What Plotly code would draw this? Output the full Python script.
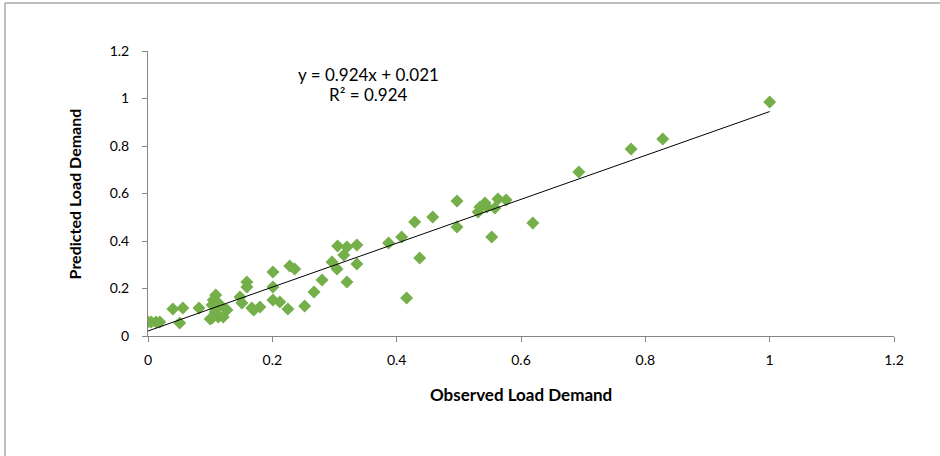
import plotly.graph_objects as go

observed = [0.0, 0.005, 0.013, 0.019, 0.040, 0.056, 0.051, 0.082, 0.100,
            0.109, 0.105, 0.111, 0.103, 0.116, 0.127, 0.108, 0.113, 0.103, 0.121,
            0.148, 0.151, 0.159, 0.159, 0.167, 0.180, 0.170,
            0.201, 0.201, 0.201, 0.212, 0.228, 0.236, 0.225, 0.252, 0.267, 0.280,
            0.296, 0.304, 0.305, 0.320, 0.336, 0.315, 0.336, 0.320,
            0.387, 0.408, 0.429, 0.458, 0.437, 0.416,
            0.497, 0.497, 0.531, 0.534, 0.542, 0.545, 0.558, 0.563, 0.576, 0.553,
            0.619, 0.693, 0.777, 0.828, 1.0]
predicted = [0.059, 0.059, 0.059, 0.059, 0.114, 0.118, 0.055, 0.118, 0.072,
             0.173, 0.152, 0.143, 0.131, 0.131, 0.109, 0.101, 0.080, 0.076, 0.080,
             0.164, 0.139, 0.227, 0.206, 0.118, 0.122, 0.109,
             0.269, 0.206, 0.152, 0.143, 0.295, 0.282, 0.114, 0.126, 0.185, 0.236,
             0.312, 0.282, 0.379, 0.375, 0.383, 0.341, 0.303, 0.227,
             0.392, 0.417, 0.480, 0.501, 0.328, 0.160,
             0.568, 0.459, 0.522, 0.543, 0.560, 0.543, 0.539, 0.577, 0.573, 0.417,
             0.476, 0.691, 0.787, 0.829, 0.985]

slope = 0.924
intercept = 0.021
r2 = 0.924
tick_vals = [0, 0.2, 0.4, 0.6, 0.8, 1, 1.2]
tick_text = ["0", "0.2", "0.4", "0.6", "0.8", "1", "1.2"]

fit_x = [min(observed), max(observed)]
fit_y = [slope * v + intercept for v in fit_x]

font_family = "Lato, Liberation Sans, Arial, sans-serif"

fig = go.Figure()
fig.add_trace(go.Scatter(x=observed, y=predicted, mode="markers",
                         marker=dict(symbol="diamond", size=10, color="#74AF49",
                                     line=dict(width=0)),
                         showlegend=False, hoverinfo="x+y"))
fig.add_trace(go.Scatter(x=fit_x, y=fit_y, mode="lines",
                         line=dict(color="black", width=1),
                         showlegend=False, hoverinfo="skip"))

axis_common = dict(range=[0, 1.2], tickvals=tick_vals, ticktext=tick_text,
                   showgrid=False, zeroline=False, showline=True,
                   linecolor="#868686", linewidth=1, ticks="outside",
                   ticklen=5, tickcolor="#868686", automargin=False,
                   tickfont=dict(family=font_family, size=14, color="#000000"))

fig.update_xaxes(**axis_common, ticklabelstandoff=6)
fig.update_yaxes(**axis_common, ticklabelstandoff=10)

# axis titles (paper coords: plot area 148..894 px wide, 51..336 px tall)
fig.add_annotation(xref="paper", yref="paper", x=0.5, y=-0.205, showarrow=False,
                   text="<b>Observed Load Demand</b>", yanchor="middle",
                   font=dict(family=font_family, size=17, color="#000000"))
fig.add_annotation(xref="paper", yref="paper", x=-0.098, y=0.5, showarrow=False,
                   text="<b>Predicted Load Demand</b>", textangle=-90,
                   xanchor="center",
                   font=dict(family=font_family, size=16, color="#000000"))

fig.add_annotation(xref="x", yref="y", x=0.354, y=1.103, showarrow=False,
                   text=f"y = {slope}x + {intercept}",
                   font=dict(family=font_family, size=17, color="#000000"))
fig.add_annotation(xref="x", yref="y", x=0.354, y=1.015, showarrow=False,
                   text=f"R² = {r2}",
                   font=dict(family=font_family, size=17, color="#000000"))

# outer chart frame (top and left edges)
fig.add_shape(type="line", xref="paper", yref="paper",
              x0=-0.1917, x1=1.07, y0=1.1684, y1=1.1684,
              line=dict(color="#7f7f7f", width=1))
fig.add_shape(type="line", xref="paper", yref="paper",
              x0=-0.1917, x1=-0.1917, y0=1.1684, y1=-0.45,
              line=dict(color="#7f7f7f", width=1))

fig.update_layout(width=940, height=456,
                  margin=dict(l=148, r=46, t=51, b=120),
                  plot_bgcolor="white", paper_bgcolor="white")

fig.write_html("out.html", config={"displayModeBar": False},
               post_script="document.body.style.margin='0';")
